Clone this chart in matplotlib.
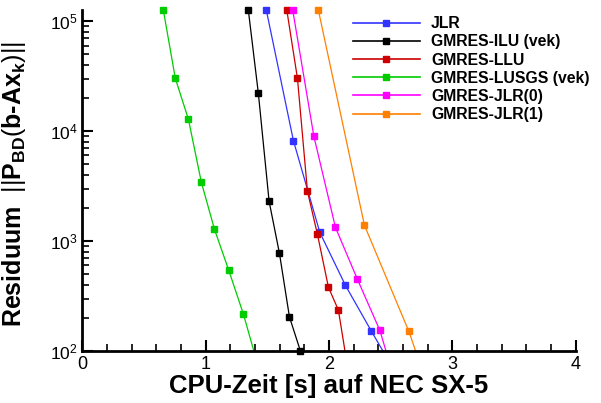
import numpy as np
import matplotlib.pyplot as plt
from matplotlib.ticker import LogLocator, MultipleLocator, NullFormatter

plt.rcParams['font.family'] = ['Liberation Sans', 'DejaVu Sans']
plt.rcParams['mathtext.fontset'] = 'custom'
plt.rcParams['mathtext.rm'] = 'Liberation Sans'
plt.rcParams['mathtext.it'] = 'Liberation Sans:bold'
plt.rcParams['mathtext.bf'] = 'Liberation Sans:bold'

# CPU time [s] and residual for each solver
jlr_t = [1.492, 1.711, 1.925, 2.133, 2.344, 2.56]
jlr_r = [1.25e5, 8.2e3, 1.20e3, 395, 151, 58]

ilu_t = [1.346, 1.427, 1.514, 1.598, 1.679, 1.768]
ilu_r = [1.25e5, 2.20e4, 2.30e3, 773, 204, 100]

llu_t = [1.658, 1.744, 1.825, 1.906, 1.995, 2.076, 2.147]
llu_r = [1.25e5, 3.01e4, 2.83e3, 1.15e3, 380, 235, 75]

lusgs_t = [0.657, 0.754, 0.860, 0.965, 1.071, 1.187, 1.306, 1.407]
lusgs_r = [1.25e5, 3.01e4, 1.28e4, 3.42e3, 1.28e3, 542, 216, 86]

jlr0_t = [1.706, 1.877, 2.052, 2.230, 2.412, 2.52]
jlr0_r = [1.25e5, 8.95e3, 1.33e3, 449, 154, 60]

jlr1_t = [1.914, 2.287, 2.647, 2.77]
jlr1_r = [1.25e5, 1.39e3, 151, 60]

series = [
    ('JLR', jlr_t, jlr_r, '#3333ff'),
    ('GMRES-ILU (vek)', ilu_t, ilu_r, 'black'),
    ('GMRES-LLU', llu_t, llu_r, '#cc0000'),
    ('GMRES-LUSGS (vek)', lusgs_t, lusgs_r, '#00cc00'),
    ('GMRES-JLR(0)', jlr0_t, jlr0_r, '#ff00ff'),
    ('GMRES-JLR(1)', jlr1_t, jlr1_r, '#ff8000'),
]

fig = plt.figure(figsize=(6.01, 4.03), dpi=100)
ax = fig.add_axes([0.137, 0.129, 0.821, 0.846])

ymin, ymax = 100, 1.26e5
for name, t, r, c in series:
    t = np.array(t)
    r = np.array(r)
    ax.plot(t, r, '-', color=c, lw=0.9)
    keep = r >= ymin
    ax.plot(t[keep], r[keep], 's', color=c, ms=4, clip_on=False, zorder=3)
    # legend handle
    ax.plot([], [], '-s', color=c, lw=1.2, ms=4, label=name)

ax.set_yscale('log')
ax.set_xlim(0, 4)
ax.set_ylim(ymin, ymax)

ax.xaxis.set_major_locator(MultipleLocator(1))
ax.xaxis.set_minor_locator(MultipleLocator(0.2))
ax.yaxis.set_major_locator(LogLocator(base=10, numticks=10))
ax.yaxis.set_minor_locator(LogLocator(base=10, subs=np.arange(2, 10), numticks=10))
ax.yaxis.set_minor_formatter(NullFormatter())

ax.spines['top'].set_visible(False)
ax.spines['right'].set_visible(False)
ax.spines['left'].set_linewidth(2)
ax.spines['bottom'].set_linewidth(2)
ax.tick_params(which='major', direction='in', length=8, width=1.5, labelsize=13)
ax.tick_params(axis='y', which='major', labelsize=12.5)
ax.tick_params(which='minor', direction='in', length=5, width=1.2)

ax.set_xlabel('CPU-Zeit [s] auf NEC SX-5', fontsize=18.5, fontweight='bold', labelpad=1)
ax.set_ylabel(r'Residuum  $||P_{BD}(b$-$Ax_k)||$', fontsize=18,
              fontweight='bold')
ax.yaxis.set_label_coords(-0.11, 0.49)

ax.legend(loc='upper left', bbox_to_anchor=(0.535, 1.0), frameon=False,
          numpoints=1, handlelength=4.3, handletextpad=0.7, labelspacing=0.2,
          prop={'weight': 'bold', 'size': 11.3}, borderaxespad=0)

fig.savefig('out.png', dpi=100)
